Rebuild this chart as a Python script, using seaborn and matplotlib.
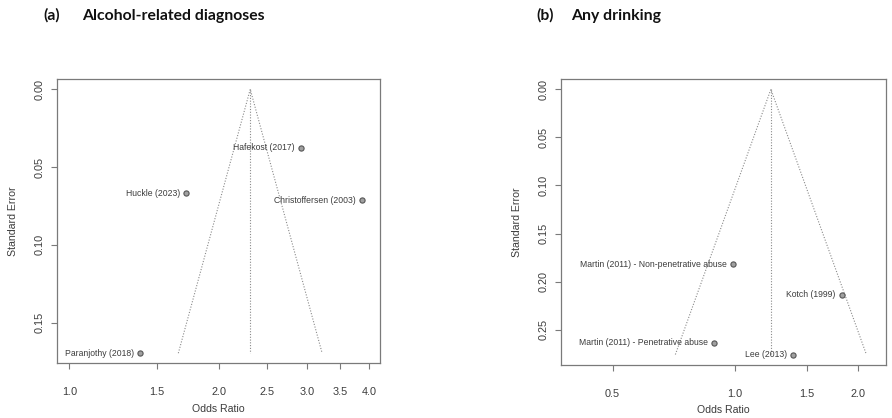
import pandas as pd
import matplotlib.pyplot as plt
import matplotlib.ticker as mticker
import seaborn as sns

# Panel (a) - alcohol-related diagnoses
a_studies = ['Hafekost (2017)', 'Huckle (2023)', 'Christoffersen (2003)', 'Paranjothy (2018)']
a_or = [2.92, 1.72, 3.88, 1.39]
a_se = [0.0377, 0.0668, 0.0713, 0.1697]
a_pooled = 2.31
a_xticks = [1.0, 1.5, 2.0, 2.5, 3.0, 3.5, 4.0]
a_yticks = [0.00, 0.05, 0.10, 0.15]

# Panel (b) - any drinking
b_studies = ['Martin (2011) - Non-penetrative abuse', 'Kotch (1999)',
             'Martin (2011) - Penetrative abuse', 'Lee (2013)']
b_or = [0.988, 1.83, 0.89, 1.39]
b_se = [0.182, 0.2138, 0.2634, 0.2757]
b_pooled = 1.225
b_xticks = [0.5, 1.0, 1.5, 2.0]
b_yticks = [0.00, 0.05, 0.10, 0.15, 0.20, 0.25]

sns.set_style('white')
plt.rcParams['font.family'] = ['Liberation Sans', 'DejaVu Sans']

TXT = '#3c3c3c'
BOX = '#7a7a7a'

fig = plt.figure(figsize=(8.92, 4.18), dpi=100)
ax_a = fig.add_axes([0.0639, 0.1316, 0.3621, 0.6794])
ax_b = fig.add_axes([0.6286, 0.1268, 0.3647, 0.6842])


def funnel(ax, studies, ors, ses, pooled, xticks, yticks, xlim, ylim):
    df = pd.DataFrame({'study': studies, 'or': ors, 'se': ses})
    semax = df['se'].max()
    ax.set_xscale('log')
    # funnel lines (pooled estimate +/- 1.96 * se)
    lo = pooled * (2.718281828 ** (-1.96 * semax))
    hi = pooled * (2.718281828 ** (1.96 * semax))
    kw = dict(color='#8a8a8a', lw=0.8, ls=(0, (1, 1.5)))
    ax.plot([lo, pooled, hi], [semax, 0, semax], **kw)
    ax.plot([pooled, pooled], [0, semax], **kw)
    sns.scatterplot(data=df, x='or', y='se', ax=ax, color='#a0a0a0',
                    edgecolor='#555555', linewidth=0.8, s=14, zorder=3)
    for _, r in df.iterrows():
        ax.annotate(r['study'], (r['or'], r['se']), xytext=(-4.5, 0),
                    textcoords='offset points', ha='right', va='center',
                    fontsize=6.2, color=TXT)
    ax.set_xlim(*xlim)
    ax.set_ylim(*ylim)
    ax.xaxis.set_major_locator(mticker.FixedLocator(xticks))
    ax.xaxis.set_major_formatter(mticker.FixedFormatter(['%.1f' % t for t in xticks]))
    ax.xaxis.set_minor_locator(mticker.NullLocator())
    ax.set_yticks(yticks)
    ax.set_yticklabels(['%.2f' % t for t in yticks])
    plt.setp(ax.get_yticklabels(), rotation=90, va='center')
    ax.tick_params(axis='both', direction='out', length=4, width=0.8,
                   color=BOX, labelcolor=TXT, labelsize=7.8)
    ax.tick_params(axis='x', pad=13, bottom=True)
    ax.tick_params(axis='y', pad=5, left=True)
    for sp in ax.spines.values():
        sp.set_color(BOX)
        sp.set_linewidth(0.9)
    ax.set_xlabel('Odds Ratio', fontsize=7.6, color=TXT)
    ax.set_ylabel('Standard Error', fontsize=7.6, color=TXT)


funnel(ax_a, a_studies, a_or, a_se, a_pooled, a_xticks, a_yticks,
       (0.945, 4.21), (0.176, -0.0066))
funnel(ax_b, b_studies, b_or, b_se, b_pooled, b_xticks, b_yticks,
       (0.373, 2.35), (0.2866, -0.0107))

ax_a.xaxis.set_label_coords(0.5, -0.162)
ax_a.yaxis.set_label_coords(-0.137, 0.5)
ax_b.xaxis.set_label_coords(0.5, -0.157)
ax_b.yaxis.set_label_coords(-0.135, 0.5)
for ax in (ax_a, ax_b):
    ax.xaxis.label.set_verticalalignment('center')
    ax.yaxis.label.set_verticalalignment('center')

# panel titles
tkw = dict(fontsize=11.3, fontweight='bold', family=['Lato', 'DejaVu Sans'],
           va='baseline', color='#111111')
fig.text(43 / 892, 1 - 20 / 418, '(a)', **tkw)
fig.text(82 / 892, 1 - 20 / 418, 'Alcohol-related diagnoses', **tkw)
fig.text(536 / 892, 1 - 20 / 418, '(b)', **tkw)
fig.text(571 / 892, 1 - 20 / 418, 'Any drinking', **tkw)

fig.savefig('out.png', dpi=100)
